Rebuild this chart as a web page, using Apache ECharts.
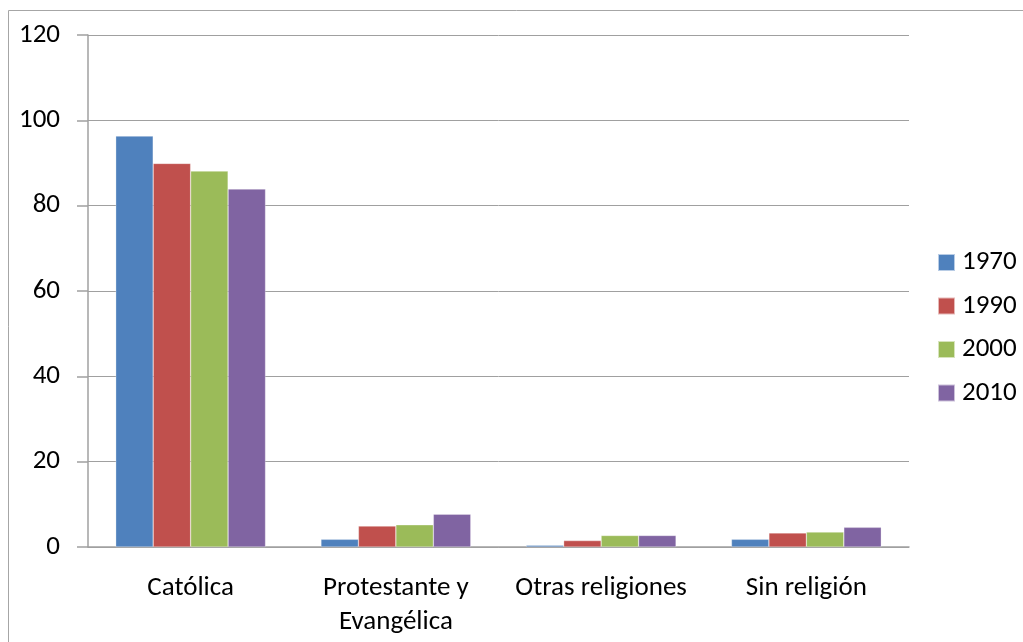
<!DOCTYPE html>
<html>
<head>
<meta charset="utf-8">
<script src="https://cdn.jsdelivr.net/npm/echarts@6/dist/echarts.min.js"></script>
<style>
  html, body { margin: 0; padding: 0; background: #fff; }
  #main { width: 1023px; height: 642px; }
</style>
</head>
<body>
<div id="main"></div>
<script>
// categorias y valores (%)
var categorias = ['Católica', 'Protestante y\nEvangélica', 'Otras religiones', 'Sin religión'];
var anios = ['1970', '1990', '2000', '2010'];
var v1970 = [96.3, 1.8, 0.4, 1.8];
var v1990 = [89.9, 4.9, 1.5, 3.3];
var v2000 = [88.1, 5.2, 2.7, 3.5];
var v2010 = [83.9, 7.7, 2.7, 4.6];
var colores = ['#4f81bd', '#c0504d', '#9bbb59', '#8064a2'];

var myChart = echarts.init(document.getElementById('main'));
var datos = [v1970, v1990, v2000, v2010];
var fuente = 'Carlito, "Open Sans", "Noto Sans", sans-serif';

var option = {
    animation: false,
    color: colores,
    textStyle: { fontFamily: fuente },
    graphic: [{
        type: 'rect',
        shape: { x: 8.5, y: 10.5, width: 1030, height: 650 },
        style: { fill: 'none', stroke: '#a6a6a6', lineWidth: 1 }
    }],
    grid: { left: 88, right: 114, top: 35, bottom: 95 },
    legend: {
        orient: 'vertical',
        left: 932,
        top: 244,
        itemWidth: 17,
        itemHeight: 17,
        itemGap: 16.5,
        icon: 'rect',
        textStyle: { fontSize: 27, color: '#000', fontFamily: fuente, padding: [0, 0, 0, 2] },
        data: anios
    },
    xAxis: {
        type: 'category',
        data: categorias,
        axisLine: { lineStyle: { color: '#a0a0a0', width: 1.5 } },
        axisTick: { length: 7, lineStyle: { color: '#a0a0a0', width: 1.5 } },
        axisLabel: { interval: 0, fontSize: 27, color: '#000', margin: 24, lineHeight: 34, fontFamily: fuente }
    },
    yAxis: {
        type: 'value',
        min: 0,
        max: 120,
        interval: 20,
        axisLine: { show: true, lineStyle: { color: '#a0a0a0', width: 1.5 } },
        axisTick: { show: true, length: 11, lineStyle: { color: '#a0a0a0', width: 1.5 } },
        axisLabel: { fontSize: 27, color: '#000', margin: 28, fontFamily: fuente },
        splitLine: { lineStyle: { color: '#a0a0a0', width: 1 } }
    },
    series: anios.map(function(a, i) {
        return {
            name: a,
            type: 'bar',
            data: datos[i],
            barGap: '0%',
            barCategoryGap: '27%',
            itemStyle: { borderColor: 'rgba(255,255,255,0.6)', borderWidth: 0.5 }
        };
    })
};
myChart.setOption(option);
</script>
</body>
</html>
